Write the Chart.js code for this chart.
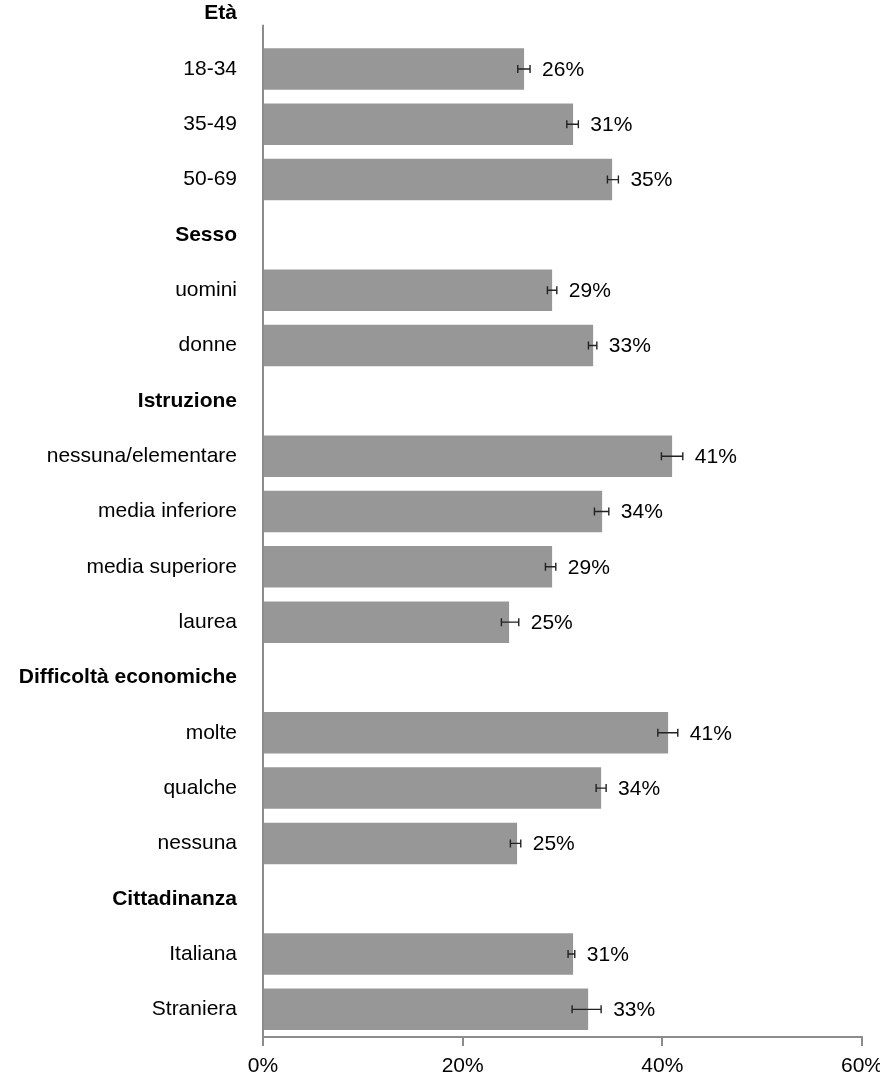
<!DOCTYPE html>
<html>
<head>
<meta charset="utf-8">
<script src="https://cdn.jsdelivr.net/npm/chart.js@4.4.1/dist/chart.umd.min.js"></script>
<style>
  html, body { margin: 0; padding: 0; background: #ffffff; overflow: hidden; }
  #wrap { width: 880px; height: 1091px; position: relative; margin-top: -14px; }
</style>
</head>
<body>
<div id="wrap"><canvas id="c"></canvas></div>
<script>
// ---- data ----
const categories = ['Età', '18-34', '35-49', '50-69',
  'Sesso', 'uomini', 'donne',
  'Istruzione', 'nessuna/elementare', 'media inferiore', 'media superiore', 'laurea',
  'Difficoltà economiche', 'molte', 'qualche', 'nessuna',
  'Cittadinanza', 'Italiana', 'Straniera'];
const headers = ['Età', 'Sesso', 'Istruzione', 'Difficoltà economiche', 'Cittadinanza'];
const values = [null, 26.15, 31.06, 34.97,
  null, 28.96, 33.07,
  null, 40.98, 33.97, 28.96, 24.65,
  null, 40.58, 33.87, 25.45,
  null, 31.06, 32.57];
const ciLow = [null, 25.52, 30.43, 34.50,
  null, 28.49, 32.60,
  null, 39.91, 33.20, 28.29, 23.88,
  null, 39.55, 33.37, 24.78,
  null, 30.56, 30.96];
const ciHigh = [null, 26.75, 31.59, 35.60,
  null, 29.43, 33.44,
  null, 42.05, 34.64, 29.33, 25.62,
  null, 41.55, 34.37, 25.82,
  null, 31.23, 33.87];
const xTicks = [0, 20, 40, 60];

// ---- style ----
const FONT = '"Liberation Sans", Arial, sans-serif';
const FS = 21;
const AXIS_GRAY = '#8c8c8c';

const errorBarsAndLabels = {
  id: 'errorBarsAndLabels',
  afterDatasetsDraw(chart) {
    const ctx = chart.ctx;
    const xs = chart.scales.x;
    const meta = chart.getDatasetMeta(0);
    ctx.save();
    meta.data.forEach((el, i) => {
      if (values[i] === null) return;
      const y = el.y;
      const x0 = xs.getPixelForValue(ciLow[i]);
      const x1 = xs.getPixelForValue(ciHigh[i]);
      ctx.strokeStyle = '#222';
      ctx.lineWidth = 1.4;
      ctx.beginPath();
      ctx.moveTo(x0, y); ctx.lineTo(x1, y);
      ctx.moveTo(x0, y - 4); ctx.lineTo(x0, y + 4);
      ctx.moveTo(x1, y - 4); ctx.lineTo(x1, y + 4);
      ctx.stroke();
      ctx.fillStyle = '#000';
      ctx.font = FS + 'px ' + FONT;
      ctx.textAlign = 'left';
      ctx.textBaseline = 'middle';
      ctx.fillText(Math.round(values[i]) + '%', x1 + 12, y + 1);
    });
    ctx.restore();
  }
};

const yAxisLine = {
  id: 'yAxisLine',
  beforeDatasetsDraw(chart) {
    const ys = chart.scales.y;
    const xs = chart.scales.x;
    const slot = ys.getPixelForValue(1) - ys.getPixelForValue(0);
    const top = ys.getPixelForValue(0) + slot * 0.2;
    const x = xs.getPixelForValue(0);
    const ctx = chart.ctx;
    ctx.save();
    ctx.strokeStyle = AXIS_GRAY;
    ctx.lineWidth = 2;
    ctx.beginPath();
    ctx.moveTo(x, top);
    ctx.lineTo(x, chart.chartArea.bottom);
    ctx.stroke();
    ctx.restore();
  }
};

new Chart(document.getElementById('c'), {
  type: 'bar',
  data: {
    labels: categories,
    datasets: [{
      data: values,
      backgroundColor: '#979797',
      borderWidth: 0,
      barPercentage: 0.75,
      categoryPercentage: 1.0
    }]
  },
  options: {
    indexAxis: 'y',
    responsive: true,
    maintainAspectRatio: false,
    animation: false,
    layout: { padding: 0 },
    plugins: { legend: { display: false }, tooltip: { enabled: false } },
    scales: {
      x: {
        min: 0, max: 60,
        afterBuildTicks(scale) { scale.ticks = xTicks.map(v => ({ value: v })); },
        afterFit(scale) { scale.height = 40; },
        grid: { display: true, drawOnChartArea: false, drawTicks: true, tickLength: 9, color: AXIS_GRAY, lineWidth: 2 },
        border: { display: true, color: AXIS_GRAY, width: 2 },
        ticks: {
          padding: -3,
          color: '#000',
          font: { family: FONT, size: FS, lineHeight: 2.2 },
          callback: v => v + '%'
        }
      },
      y: {
        afterFit(scale) { scale.width = 263; },
        grid: { display: true, drawOnChartArea: false, drawTicks: true, tickLength: 53, color: 'rgba(0,0,0,0)' },
        border: { display: false },
        ticks: {
          autoSkip: false,
          padding: -27,
          color: '#000',
          font: (c) => ({ family: FONT, size: FS, weight: headers.includes(categories[c.index]) ? 'bold' : 'normal' })
        }
      }
    }
  },
  plugins: [yAxisLine, errorBarsAndLabels]
});
</script>
</body>
</html>
